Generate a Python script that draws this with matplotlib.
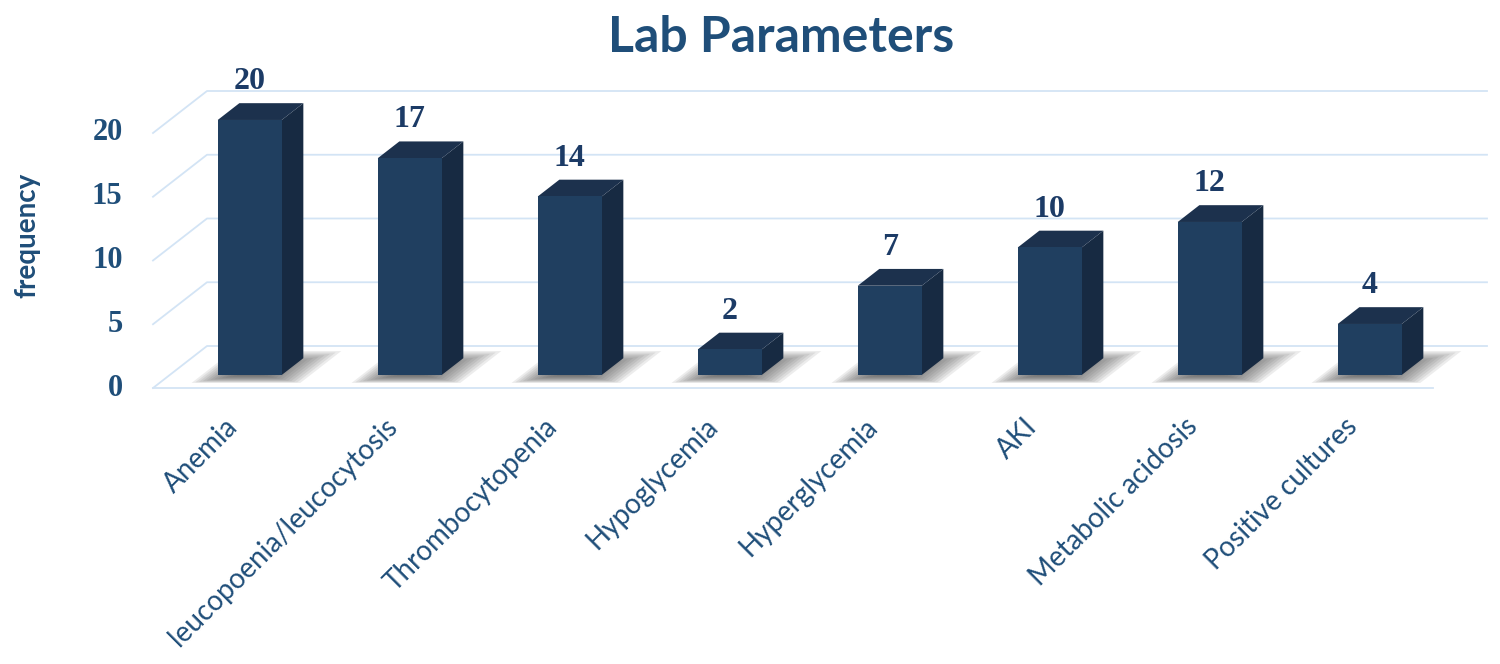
import matplotlib.pyplot as plt
from matplotlib.patches import Polygon

categories = ['Anemia', 'leucopoenia/leucocytosis', 'Thrombocytopenia', 'Hypoglycemia',
              'Hyperglycemia', 'AKI', 'Metabolic acidosis', 'Positive cultures']
values = [20, 17, 14, 2, 7, 10, 12, 4]
yticks = [0, 5, 10, 15, 20]

# oblique projection (depth 0 = front, 1 = back wall), in data units
DX = 54 / 160
DY = 42 / 12.75
W = 0.2
D0, D1 = 0.31, 0.71

front_c = '#203F60'
side_c = '#172A42'
top_c = '#1C314D'
grid_c = '#D3E4F5'
lab_c = '#1F4E79'
val_c = '#1C3B66'


def proj(x, v, d):
    return x + d * DX, v + d * DY


fig = plt.figure(figsize=(15, 6.64), dpi=100)
ax = fig.add_axes([0, 0, 1, 1])
ax.set_xlim(-233 / 160, (1500 - 233) / 160)
ax.set_ylim((388 - 664) / 12.75, 388 / 12.75)
ax.axis('off')

x0, x1 = -0.5, len(categories) - 0.5

# walls
for t in yticks:
    xs, ys = zip(proj(x0, t, 0), proj(x0, t, 1), proj(x1, t, 1))
    ax.plot(xs, ys, color=grid_c, lw=1.3, zorder=1)
xs, ys = zip(proj(x0, 0, 0), proj(x1, 0, 0))
ax.plot(xs, ys, color=grid_c, lw=1.3, zorder=1)

for t in yticks:
    px, py = proj(x0, t, 0)
    ax.text(px - 0.19, py, str(t), ha='right', va='center', fontsize=22,
            fontweight='bold', family='Liberation Serif', color=lab_c)

# bars
for i, v in enumerate(values):
    # soft shadow on the floor
    cx, cd = i, 0.35
    corners = [(i - 0.3, 0.12), (i + 0.38, 0.12), (i + 0.38, 0.88), (i - 0.3, 0.88)]
    n = 16
    for k in range(n):
        s = 1 - k / n
        pts = [proj(cx + s * (a - cx), 0, cd + s * (b - cd)) for a, b in corners]
        ax.add_patch(Polygon(pts, closed=True, facecolor='#555555', edgecolor='none',
                             alpha=0.11, zorder=2))

    front = [proj(i - W, 0, D0), proj(i + W, 0, D0), proj(i + W, v, D0), proj(i - W, v, D0)]
    side = [proj(i + W, 0, D0), proj(i + W, 0, D1), proj(i + W, v, D1), proj(i + W, v, D0)]
    top = [proj(i - W, v, D0), proj(i + W, v, D0), proj(i + W, v, D1), proj(i - W, v, D1)]
    ax.add_patch(Polygon(side, closed=True, facecolor=side_c, edgecolor='none', zorder=3))
    ax.add_patch(Polygon(top, closed=True, facecolor=top_c, edgecolor='none', zorder=3))
    ax.add_patch(Polygon(front, closed=True, facecolor=front_c, edgecolor='none', zorder=4))

    tx, _ = proj(i, v, D0)
    _, ty = proj(i, v, D1)
    ax.text(tx, ty + 0.55, str(v), ha='center', va='bottom', fontsize=23,
            fontweight='bold', family='Liberation Serif', color=val_c, zorder=5)

    ax.text(i + 0.06, -2.0, categories[i], rotation=45, ha='right', va='top',
            fontsize=20, family='Lato', color=lab_c)

fig.text(0.521, 1 - 38 / 664, 'Lab Parameters', ha='center', va='center',
         fontsize=36, fontweight='bold', family='Lato', color=lab_c)
fig.text(27 / 1500, 1 - 235 / 664, 'frequency', rotation=90, ha='center', va='center',
         fontsize=20, fontweight='bold', family='Lato', color=lab_c)

fig.savefig('out.png', dpi=100)
